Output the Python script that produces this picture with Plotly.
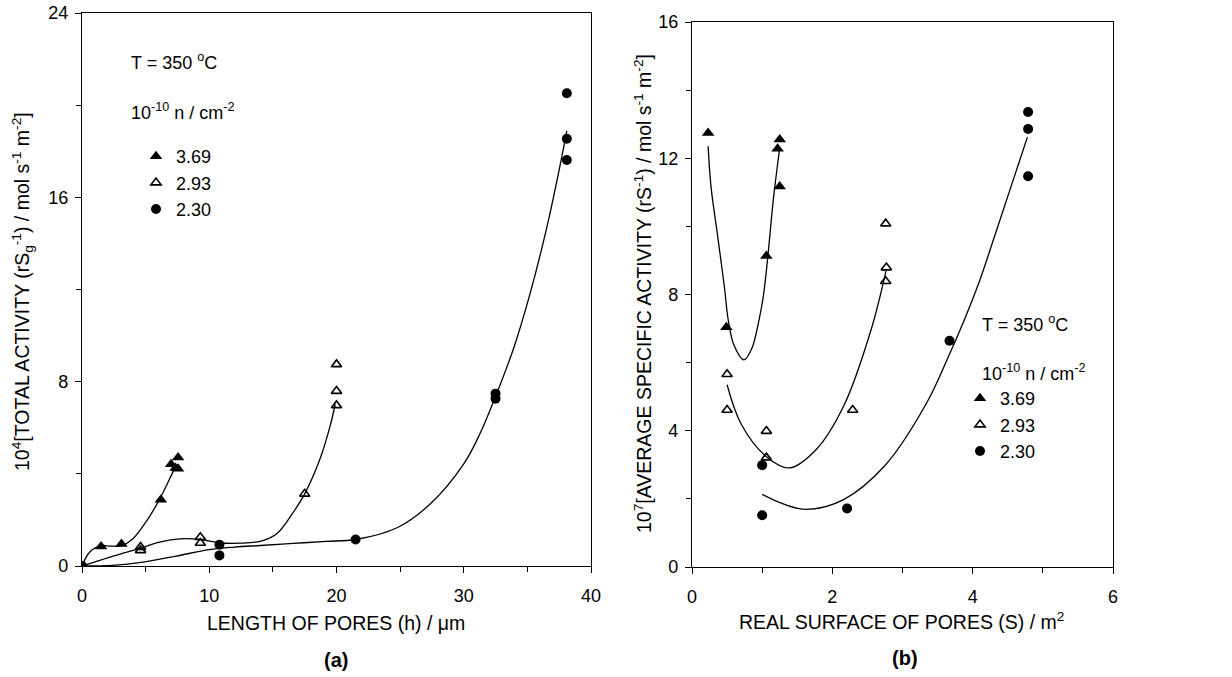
import plotly.graph_objects as go

W, H = 1232, 677

# ---------------- Panel (a): total activity vs length of pores ----------------
a_h_369 = [0, 1.5, 3.1, 6.2, 7.0, 7.55, 7.35, 7.55]
a_y_369 = [0, 0.85, 0.95, 2.88, 4.42, 4.71, 4.25, 4.22]
a_h_293 = [4.6, 4.6, 9.3, 9.3, 17.5, 20.0, 20.0, 20.0]
a_y_293 = [0.82, 0.68, 1.25, 1.0, 3.13, 8.75, 7.59, 6.97]
a_h_230 = [0, 10.8, 10.8, 21.5, 32.5, 32.5, 38.1, 38.1, 38.1]
a_y_230 = [0, 0.92, 0.46, 1.15, 7.48, 7.26, 20.52, 18.54, 17.62]

# fitted curves
a_fit_h_369 = [0, 0.6, 1.5, 2.3, 3.2, 4.0, 5.1, 6.1, 7.2, 7.35]
a_fit_y_369 = [0, 0.6, 0.88, 0.86, 0.9, 1.18, 1.97, 2.9, 4.14, 4.3]
a_fit_h_293 = [0, 2.2, 4.6, 6.1, 7.7, 9.3, 10.8, 12.4, 14.0, 15.3, 16.6, 17.5, 18.7, 19.5, 19.9]
a_fit_y_293 = [0, 0.39, 0.78, 1.04, 1.18, 1.15, 1.01, 0.99, 1.07, 1.4, 2.33, 3.13, 4.64, 6.08, 7.02]
a_fit_h_230 = [0, 2.4, 4.8, 7.4, 10, 12, 14, 16.6, 19.2, 21.5, 24.8, 27.4, 30, 31.3, 32.5, 33.9, 35.2, 36.5, 37.6, 38.1]
a_fit_y_230 = [0, 0.03, 0.17, 0.43, 0.71, 0.82, 0.89, 0.98, 1.07, 1.15, 1.67, 2.71, 4.43, 5.77, 7.36, 9.42, 11.8, 14.63, 17.47, 18.88]

# ---------------- Panel (b): average specific activity vs real surface ----------------
b_s_369 = [0.23, 0.49, 1.06, 1.25, 1.22, 1.25]
b_y_369 = [12.74, 7.04, 9.13, 12.55, 12.28, 11.17]
b_s_293 = [0.5, 0.5, 1.06, 1.06, 2.29, 2.76, 2.77, 2.76]
b_y_293 = [5.66, 4.61, 3.99, 3.21, 4.61, 10.08, 8.79, 8.39]
b_s_230 = [1.0, 1.0, 2.21, 3.67, 4.79, 4.79, 4.79]
b_y_230 = [2.99, 1.52, 1.72, 6.64, 13.36, 12.86, 11.47]

b_fit_s_369 = [0.23, 0.27, 0.36, 0.46, 0.52, 0.6, 0.74, 0.85, 0.96, 1.02, 1.08, 1.16, 1.25]
b_fit_y_369 = [12.35, 11.18, 9.8, 8.25, 7.2, 6.5, 6.08, 6.4, 7.3, 8.0, 9.1, 10.8, 12.3]
b_fit_s_293 = [0.5, 0.7, 1.06, 1.39, 1.77, 2.16, 2.55, 2.77]
b_fit_y_293 = [5.35, 4.2, 3.24, 2.91, 3.45, 4.72, 6.95, 8.74]
b_fit_s_230 = [1.0, 1.3, 1.63, 2.16, 2.75, 3.34, 3.66, 3.87, 4.09, 4.33, 4.78]
b_fit_y_230 = [2.13, 1.85, 1.69, 1.98, 2.98, 4.8, 6.2, 7.2, 8.35, 9.82, 12.62]

series_labels = ["3.69", "2.93", "2.30"]

FONT = "Liberation Sans, Arial, Helvetica, sans-serif"


def px(x):
    return x / W


def py(y):
    return 1 - y / H


fig = go.Figure()

marker_styles = [
    dict(symbol="triangle-up", size=11, color="black", line=dict(width=0)),
    dict(symbol="triangle-up-open", size=9, color="black", line=dict(width=1.6, color="black")),
    dict(symbol="circle", size=10, color="black", line=dict(width=0)),
]

line_style = dict(color="black", width=1.3, shape="spline", smoothing=1.0)

# Panel (a) curves
for fx, fy in [(a_fit_h_369, a_fit_y_369), (a_fit_h_293, a_fit_y_293), (a_fit_h_230, a_fit_y_230)]:
    fig.add_trace(go.Scatter(x=fx, y=fy, mode="lines", line=line_style, showlegend=False,
                             xaxis="x", yaxis="y", hoverinfo="skip"))
# Panel (a) points
for i, (xs, ys) in enumerate([(a_h_369, a_y_369), (a_h_293, a_y_293), (a_h_230, a_y_230)]):
    fig.add_trace(go.Scatter(x=xs, y=ys, mode="markers", marker=marker_styles[i],
                             name=series_labels[i], legendgroup="a%d" % i, legend="legend",
                             xaxis="x", yaxis="y"))

# Panel (b) curves
for fx, fy in [(b_fit_s_369, b_fit_y_369), (b_fit_s_293, b_fit_y_293), (b_fit_s_230, b_fit_y_230)]:
    fig.add_trace(go.Scatter(x=fx, y=fy, mode="lines", line=line_style, showlegend=False,
                             xaxis="x2", yaxis="y2", hoverinfo="skip"))
# Panel (b) points
for i, (xs, ys) in enumerate([(b_s_369, b_y_369), (b_s_293, b_y_293), (b_s_230, b_y_230)]):
    fig.add_trace(go.Scatter(x=xs, y=ys, mode="markers", marker=marker_styles[i],
                             name=series_labels[i], legendgroup="b%d" % i, legend="legend2",
                             xaxis="x2", yaxis="y2"))

axis_common = dict(
    showline=True, linecolor="black", linewidth=1.4, mirror=True,
    ticks="outside", ticklen=6, tickwidth=1.2, tickcolor="black",
    showgrid=False, zeroline=False, automargin=False,
    tickfont=dict(family=FONT, size=18, color="black"),
)
minor_common = dict(ticks="outside", ticklen=5, tickwidth=1.2, tickcolor="black")

fig.update_layout(
    width=W, height=H, autosize=False,
    margin=dict(l=0, r=0, t=0, b=0),
    paper_bgcolor="white", plot_bgcolor="white",
    font=dict(family=FONT, color="black"),
    xaxis=dict(domain=[px(82), px(591)], range=[0, 40], dtick=10, anchor="y",
               ticklabelstandoff=7, minor=dict(dtick=5, **minor_common), **axis_common),
    yaxis=dict(domain=[py(566), py(13)], range=[0, 24], dtick=8, anchor="x",
               ticklabelstandoff=3, minor=dict(dtick=4, **minor_common), **axis_common),
    xaxis2=dict(domain=[px(692), px(1113)], range=[0, 6], dtick=2, anchor="y2",
                ticklabelstandoff=7, minor=dict(dtick=1, **minor_common), **axis_common),
    yaxis2=dict(domain=[py(567), py(22)], range=[0, 16], dtick=4, anchor="x2",
                ticklabelstandoff=3, minor=dict(dtick=2, **minor_common), **axis_common),
    legend=dict(x=px(136), y=py(138), xanchor="left", yanchor="top",
                bgcolor="rgba(0,0,0,0)", font=dict(family=FONT, size=18, color="black"),
                tracegroupgap=0, itemclick=False, itemdoubleclick=False),
    legend2=dict(x=px(960), y=py(380), xanchor="left", yanchor="top",
                 bgcolor="rgba(0,0,0,0)", font=dict(family=FONT, size=18, color="black"),
                 tracegroupgap=0, itemclick=False, itemdoubleclick=False),
    showlegend=True,
)

ann_font = dict(family=FONT, size=18, color="black")
title_font = dict(family=FONT, size=19.5, color="black")
annotations = [
    # axis titles
    dict(text="LENGTH OF PORES (h) / μm", x=px(336), y=py(623), xanchor="center", yanchor="middle",
         font=title_font),
    dict(text="10<sup>4</sup>[TOTAL ACTIVITY (rS<sub>g</sub><sup>-1</sup>) / mol s<sup>-1</sup> m<sup>-2</sup>]",
         x=px(22), y=py(292), xanchor="center", yanchor="middle", textangle=-90, font=title_font),
    dict(text="REAL SURFACE OF PORES (S) / m<sup>2</sup>", x=px(902), y=py(621), xanchor="center",
         yanchor="middle", font=title_font),
    dict(text="10<sup>7</sup>[AVERAGE SPECIFIC ACTIVITY (rS<sup>-1</sup>) / mol s<sup>-1</sup> m<sup>-2</sup>]",
         x=px(643), y=py(294), xanchor="center", yanchor="middle", textangle=-90, font=title_font),
    # in-plot texts
    dict(text="T = 350 <sup>o</sup>C", x=px(129), y=py(62), xanchor="left", yanchor="middle"),
    dict(text="10<sup>-10</sup> n / cm<sup>-2</sup>", x=px(129), y=py(111), xanchor="left", yanchor="middle"),
    dict(text="T = 350 <sup>o</sup>C", x=px(980), y=py(324), xanchor="left", yanchor="middle"),
    dict(text="10<sup>-10</sup> n / cm<sup>-2</sup>", x=px(980), y=py(372), xanchor="left", yanchor="middle"),
    # panel labels
    dict(text="<b>(a)</b>", x=px(336), y=py(660), xanchor="center", yanchor="middle",
         font=dict(family=FONT, size=20, color="black")),
    dict(text="<b>(b)</b>", x=px(905), y=py(658), xanchor="center", yanchor="middle",
         font=dict(family=FONT, size=20, color="black")),
]
for a in annotations:
    a.setdefault("font", ann_font)
    a.update(xref="paper", yref="paper", showarrow=False)
fig.update_layout(annotations=annotations)

fig.write_html("out.html", config={"displayModeBar": False},
               post_script="document.body.style.margin='0px';")
